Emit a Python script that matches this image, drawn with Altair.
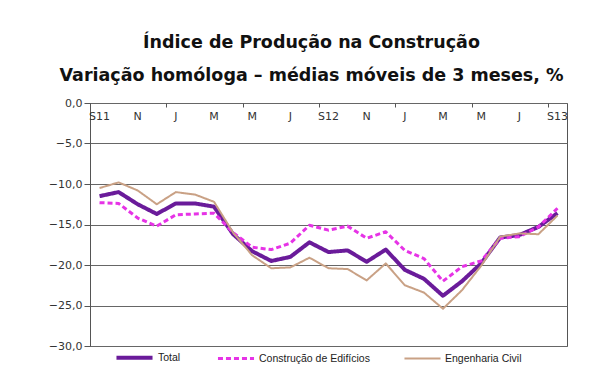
import altair as alt
import pandas as pd

months = ["S11", "O", "N", "D", "J", "F", "M", "A", "M", "J", "J", "A",
          "S12", "O", "N", "D", "J", "F", "M", "A", "M", "J", "J", "A", "S13"]
total = [-11.5, -11.0, -12.5, -13.7, -12.4, -12.4, -12.8, -16.2, -18.3, -19.5,
         -19.0, -17.2, -18.4, -18.2, -19.6, -18.1, -20.6, -21.7, -23.8, -22.0,
         -19.8, -16.6, -16.3, -15.3, -13.6]
edificios = [-12.3, -12.4, -14.2, -15.2, -13.8, -13.7, -13.6, -16.0, -17.8, -18.1,
             -17.3, -15.1, -15.7, -15.2, -16.7, -15.9, -18.2, -19.2, -22.0, -20.2,
             -19.5, -16.7, -16.5, -15.3, -13.0]
engenharia = [-10.5, -9.8, -10.8, -12.5, -11.0, -11.3, -12.2, -16.0, -18.8, -20.4,
              -20.3, -19.1, -20.4, -20.5, -21.9, -19.8, -22.5, -23.4, -25.4, -23.1,
              -20.1, -16.5, -16.1, -16.2, -13.9]
series_names = ["Total", "Construção de Edifícios", "Engenharia Civil"]
series_colors = ["#6a1b9a", "#e633e6", "#c9a185"]
series_dash = [[1, 0], [5, 3], [1, 0]]
series_width = [4, 2, 2]
y_ticks = [0, -5, -10, -15, -20, -25, -30]

rows = []
for name, vals in zip(series_names, [total, edificios, engenharia]):
    for i, v in enumerate(vals):
        rows.append({"idx": i, "serie": name, "valor": v})
df = pd.DataFrame(rows)

lab_df = pd.DataFrame({"idx": list(range(0, 25, 2)),
                       "lab": [months[i] for i in range(0, 25, 2)]})

xscale = alt.Scale(domain=[-0.5, 24.5], nice=False, zero=False)

lines = alt.Chart(df).mark_line(strokeJoin="round").encode(
    x=alt.X("idx:Q", scale=xscale,
            axis=alt.Axis(orient="top", values=[i - 0.5 for i in range(25)],
                          labels=False, domain=False, grid=False, ticks=True,
                          tickSize=4, offset=-4, tickColor="#555555", title=None)),
    y=alt.Y("valor:Q", scale=alt.Scale(domain=[-30, 0], nice=False),
            axis=alt.Axis(values=y_ticks, title=None,
                          labelExpr="replace(format(datum.value, '.1f'), '.', ',')",
                          labelFont="DejaVu Sans", labelFontSize=11, labelColor="#333333",
                          tickSize=6, tickColor="#555555", labelPadding=2,
                          domainColor="#555555", gridColor="#666666", gridWidth=1.2)),
    color=alt.Color("serie:N", scale=alt.Scale(domain=series_names, range=series_colors),
                    sort=series_names,
                    legend=alt.Legend(orient="none", legendX=24, legendY=234,
                                      direction="horizontal", title=None,
                                      symbolType="stroke", symbolSize=1300,
                                      labelFont="Liberation Sans", labelFontSize=10.5,
                                      labelColor="#222222", columnPadding=30,
                                      labelOffset=3, padding=0)),
    strokeDash=alt.StrokeDash("serie:N", scale=alt.Scale(domain=series_names, range=series_dash),
                              sort=series_names, legend=None),
    strokeWidth=alt.StrokeWidth("serie:N", scale=alt.Scale(domain=series_names, range=series_width),
                                sort=series_names, legend=None),
    order=alt.Order("idx:Q"),
)

labels = alt.Chart(lab_df).mark_text(font="DejaVu Sans", fontSize=11, color="#333333",
                                     baseline="middle").encode(
    x=alt.X("idx:Q", scale=xscale),
    y=alt.value(14),
    text="lab:N",
)

chart = alt.layer(lines, labels).properties(
    width=477, height=243,
    autosize=alt.AutoSizeParams(type="none"),
    padding={"left": 82, "top": 95, "right": 20, "bottom": 26},
    title=alt.TitleParams(
        text=["Índice de Produção na Construção",
              "Variação homóloga – médias móveis de 3 meses, %"],
        font="DejaVu Sans", fontSize=17.5, fontWeight="bold", color="#111111",
        anchor="middle", dx=-17, lineHeight=33, offset=13),
).configure_view(stroke="#555555", strokeWidth=1)

chart.save("out.html", embed_options={"renderer": "svg", "actions": False})
